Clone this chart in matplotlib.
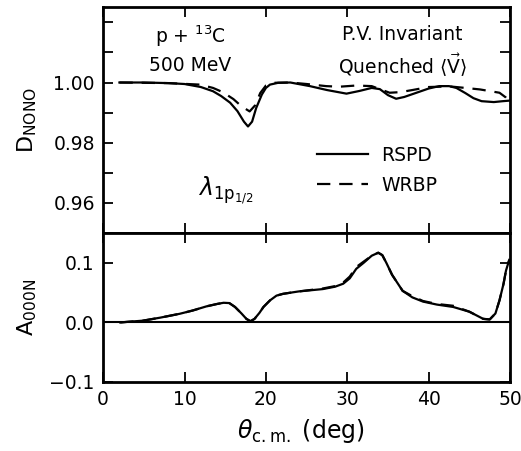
import matplotlib
matplotlib.use("Agg")
import matplotlib.pyplot as plt
from matplotlib.ticker import MultipleLocator

plt.rcParams['font.family'] = ['DejaVu Sans']
plt.rcParams['mathtext.fontset'] = 'dejavusans'

# ---- data ----
rspd_d_x = [2.0, 5, 8, 10, 12, 13.5, 14.5, 15.6, 16.5, 17.3, 17.8, 18.3, 18.8, 19.5, 20.0, 20.5, 21.5,
            23.0, 25.4, 27.5, 29.9, 31.5, 33.0, 34.0, 35.0, 36.0, 37.0, 38.5, 40.0, 41.3, 42.5, 43.4,
            44.5, 45.5, 46.5, 48.0, 49.1, 50.0]
rspd_d_y = [1.0000, 1.0000, 0.9998, 0.9995, 0.9985, 0.9971, 0.9955, 0.9933, 0.9905, 0.9870, 0.9854,
            0.9870, 0.9915, 0.9960, 0.9982, 0.9993, 0.9999, 1.0000, 0.9988, 0.9975, 0.9963, 0.9972,
            0.9982, 0.9978, 0.9958, 0.9946, 0.9952, 0.9966, 0.9980, 0.9988, 0.9988, 0.9982, 0.9965,
            0.9948, 0.9938, 0.9935, 0.9938, 0.9940]

wrbp_d_x = [2, 8, 11.9, 13.5, 14.7, 16, 17, 18, 18.7, 19.3, 20, 21, 23, 25, 27.4, 29, 31.1, 33, 35.2,
            36.5, 38, 40, 42.6, 44.5, 46.3, 48.7, 49.5, 50]
wrbp_d_y = [1.0, 0.9998, 0.9993, 0.9982, 0.9968, 0.9945, 0.9921, 0.9904, 0.9925, 0.9965, 0.9990,
            0.9999, 1.0000, 0.9995, 0.9988, 0.9986, 0.9990, 0.9988, 0.9966, 0.9968, 0.9975, 0.9985,
            0.9987, 0.9982, 0.9977, 0.9966, 0.9950, 0.9932]

rspd_a_x = [2.1, 4.9, 7, 9.4, 11, 12.7, 14, 14.8, 15.5, 16.2, 17, 17.6, 18.1, 18.6, 19.2, 19.7, 20.5,
            21.3, 22.1, 24, 27, 28.5, 29.5, 30.3, 31.1, 32, 33, 33.8, 34.3, 34.8, 35.5, 36.8, 38, 39.3,
            41, 43, 45, 46.7, 47.5, 48.2, 48.7, 49.2, 49.5, 49.9]
rspd_a_y = [0.0, 0.003, 0.008, 0.0145, 0.020, 0.027, 0.031, 0.033, 0.0325, 0.026, 0.015, 0.006, 0.002,
            0.006, 0.016, 0.026, 0.037, 0.045, 0.048, 0.052, 0.056, 0.060, 0.065, 0.074, 0.090, 0.100,
            0.112, 0.117, 0.113, 0.100, 0.080, 0.053, 0.042, 0.035, 0.030, 0.026, 0.018, 0.006, 0.005,
            0.015, 0.037, 0.065, 0.087, 0.105]

wrbp_a_x = [2.1, 4.9, 7, 9.4, 11, 12.7, 14, 14.8, 15.5, 16.2, 17, 17.6, 18.1, 18.6, 19.2, 19.7, 20.5,
            21.3, 22.1, 24, 27, 28.5, 29.5, 30.3, 31.1, 32, 33, 33.8, 34.3, 34.8, 35.5, 36.8, 38, 39.3,
            41, 43, 45, 46.7, 47.5, 48.2, 48.7, 49.2, 49.5, 49.9]
wrbp_a_y = [0.0, 0.003, 0.008, 0.0145, 0.020, 0.027, 0.031, 0.033, 0.0325, 0.026, 0.015, 0.006, 0.002,
            0.006, 0.016, 0.026, 0.037, 0.045, 0.048, 0.052, 0.057, 0.061, 0.067, 0.077, 0.093, 0.102,
            0.112, 0.117, 0.113, 0.100, 0.080, 0.053, 0.044, 0.036, 0.031, 0.028, 0.018, 0.006, 0.005,
            0.015, 0.037, 0.065, 0.087, 0.105]

x_ticks = [0, 10, 20, 30, 40, 50]
d_ticks = [0.96, 0.98, 1.00]
a_ticks = [-0.1, 0.0, 0.1]

# ---- figure ----
fig = plt.figure(figsize=(5.21, 4.51), dpi=100)
gs = fig.add_gridspec(2, 1, height_ratios=[226, 149], hspace=0,
                      left=0.198, right=0.979, top=0.984, bottom=0.153)
ax1 = fig.add_subplot(gs[0])
ax2 = fig.add_subplot(gs[1], sharex=ax1)

lw = 1.6
ax1.plot(rspd_d_x, rspd_d_y, color='black', lw=lw, label='RSPD')
ax1.plot(wrbp_d_x, wrbp_d_y, color='black', lw=lw, ls=(0, (6, 4)), label='WRBP')
ax2.plot(rspd_a_x, rspd_a_y, color='black', lw=lw)
ax2.plot(wrbp_a_x, wrbp_a_y, color='black', lw=lw, ls=(0, (6, 4)))
ax2.axhline(0.0, color='black', lw=1.5)

ax1.set_xlim(0, 50)
ax1.set_ylim(0.95, 1.025)
ax2.set_ylim(-0.1, 0.15)

ax1.set_yticks(d_ticks)
ax1.set_yticklabels(['%.2f' % v for v in d_ticks])
ax1.yaxis.set_minor_locator(MultipleLocator(0.01))
ax2.set_yticks(a_ticks)
ax2.set_yticklabels(['\u22120.1', '0.0', '0.1'])
ax2.set_xticks(x_ticks)
ax2.set_xticklabels([str(v) for v in x_ticks])

for ax in (ax1, ax2):
    ax.tick_params(which='both', direction='in', top=True, right=True,
                   length=7, width=1.3, labelsize=13.5, pad=6)
    for s in ax.spines.values():
        s.set_linewidth(2.0)
ax1.tick_params(labelbottom=False)

ax1.set_ylabel(r'D$_{\rm NONO}$', fontsize=16)
ax2.set_ylabel(r'A$_{\rm 000N}$', fontsize=16)
ax1.yaxis.set_label_coords(-0.158, 0.5)
ax2.yaxis.set_label_coords(-0.158, 0.5)

fig.text(0.578, 0.045, r'$\theta_{\rm c.m.}$ (deg)', fontsize=17, ha='center', va='center')

ax1.text(10.7, 1.0154, r'p + $^{13}$C', fontsize=13.5, ha='center', va='center')
ax1.text(10.7, 1.0056, '500 MeV', fontsize=13.5, ha='center', va='center')
ax1.text(36.8, 1.0160, 'P.V. Invariant', fontsize=13.5, ha='center', va='center')
ax1.text(36.8, 1.0060, r'Quenched $\langle\vec{\rm V}\rangle$', fontsize=13.5, ha='center', va='center')
ax1.text(15, 0.9643, r'$\lambda_{\rm 1p_{1/2}}$', fontsize=17, ha='center', va='center')

leg = ax1.legend(loc='upper left', bbox_to_anchor=(0.485, 0.462), frameon=False,
                 fontsize=13.5, handlelength=2.7, handletextpad=0.7, labelspacing=0.6)

fig.savefig('out.png', dpi=100)
